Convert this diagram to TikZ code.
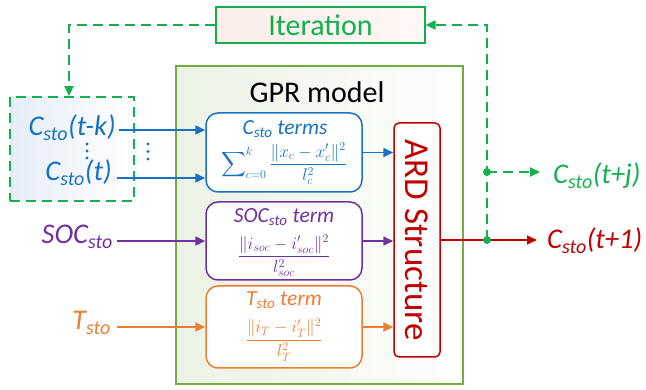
\documentclass[tikz,border=0pt]{standalone}
\usepackage{fontspec}
\setmainfont{Carlito}
\usepackage{amsmath}
\usetikzlibrary{arrows.meta,calc}
\definecolor{cblue}{HTML}{1872C4}
\definecolor{cpurple}{HTML}{7030A0}
\definecolor{corange}{HTML}{ED7D31}
\definecolor{cred}{HTML}{C00000}
\definecolor{cgreen}{HTML}{12B04E}
\definecolor{gprline}{HTML}{70AD47}
\definecolor{gprfill}{HTML}{EBF2E4}
\definecolor{iterfill}{HTML}{FCEDE8}
\definecolor{infill}{HTML}{E6EDF8}
\newcommand\stosub{\textsubscript{sto}}
\tikzset{
  lbl/.style={font=\fontsize{28.5}{32}\selectfont\itshape, inner sep=0pt},
  ttl/.style={font=\fontsize{21.5}{24}\selectfont\itshape, inner sep=0pt},
  frm/.style={font=\fontsize{18.5}{21}\selectfont, inner sep=0pt},
  termbox/.style={draw, line width=1.5pt, rounded corners=12pt, fill=white, minimum width=156pt},
  arr/.style={-{Triangle[length=10pt,width=9pt]}, line width=1.6pt},
  gdash/.style={draw=cgreen, line width=1.8pt, dash pattern=on 10pt off 6pt},
  gdot/.style={circle, fill=cgreen, inner sep=0pt, minimum size=8pt},
  vdot/.style={circle, inner sep=0pt, minimum size=3.2pt, fill=cblue}
}
\begin{document}
\begin{tikzpicture}[x=1pt,y=-1pt]
\useasboundingbox (0,0) rectangle (646,390);
% main boxes
\node[draw=gprline, line width=1.2pt, left color=gprfill, right color=white!96!gprfill, minimum width=287pt, minimum height=318pt, inner sep=0pt] (gpr) at (319.5,225) {};
\node[font=\fontsize{30}{34}\selectfont, inner sep=0pt] (gprt) at (317,92) {GPR model};
\node[draw=cgreen, line width=1.2pt, left color=iterfill, right color=white!60!iterfill, minimum width=209pt, minimum height=36pt, inner sep=0pt, text=cgreen, font=\fontsize{30}{34}\selectfont] (iter) at (320.5,25) {Iteration};
\node[gdash, left color=infill, right color=white, minimum width=124pt, minimum height=104pt, inner sep=0pt] (inbox) at (72,149) {};
% term boxes
\node[termbox, draw=cblue, minimum height=79pt] (cbox) at (284,152.5) {};
\node[termbox, draw=cpurple, minimum height=78pt] (sbox) at (284,241) {};
\node[termbox, draw=corange, minimum height=82pt] (tbox) at (284,327) {};
\node[ttl, text=cblue] (ctitle) at (285,129) {C\stosub{} terms};
\node[frm, text=cblue] (cform) at (284,164) {$\displaystyle\sum\nolimits_{c=0}^{k}\frac{\|x_c-x'_c\|^2}{l_c^2}$};
\node[ttl, text=cpurple] (stitle) at (284,217) {SOC\stosub{} term};
\node[frm, text=cpurple] (sform) at (284,256) {$\dfrac{\|i_{soc}-i'_{soc}\|^2}{l_{soc}^2}$};
\node[ttl, text=corange] (ttitle) at (284,300) {T\stosub{} term};
\node[frm, text=corange] (tform) at (284,340) {$\dfrac{\|i_T-i'_T\|^2}{l_T^2}$};
% ARD
\node[draw=cred, line width=1.5pt, rounded corners=5pt, fill=white, minimum width=46pt, minimum height=234pt, inner sep=0pt] (ard) at (417,240) {};
\node[rotate=-90, text=cred, font=\fontsize{35}{38}\selectfont, inner sep=0pt] (ardt) at (417,240) {ARD Structure};
% input labels
\node[lbl, text=cblue, anchor=base east] (ctk) at (116,136) {C\stosub(t-k)};
\node[lbl, text=cblue, anchor=base east] (ct) at (112,181) {C\stosub(t)};
\node[lbl, text=cpurple, anchor=base east] (soc) at (113,244) {SOC\stosub};
\node[lbl, text=corange, anchor=base east] (tin) at (111,330) {T\stosub};
% vertical dots
\node[vdot] (a1) at (87,144) {};
\node[vdot] (a2) at (87,151) {};
\node[vdot] (a3) at (87,158) {};
\node[vdot] (b1) at (148,144) {};
\node[vdot] (b2) at (148,151.5) {};
\node[vdot] (b3) at (148,159) {};
% output labels
\node[lbl, text=cgreen, anchor=base west] (ctj) at (553,184) {C\stosub(t+j)};
\node[lbl, text=cred, anchor=base west] (ct1) at (547,249) {C\stosub(t+1)};
% coordinates
\coordinate (j1) at (487,240);
\coordinate (j2) at (487,172);
\coordinate (j3) at (487,25);
\coordinate (ya) at (0,130);
\coordinate (yb) at (0,178);
\coordinate (yc) at (0,241);
\coordinate (yd) at (0,327);
% input arrows
\draw[arr, cblue] (ya -| ctk.east) ++(3,0) -- (ya -| cbox.west);
\draw[arr, cblue] (yb -| ctk.east) ++(1,0) -- (yb -| cbox.west);
\draw[arr, cpurple] (yc -| ctk.east) ++(1,0) -- (yc -| sbox.west);
\draw[arr, corange] (yd -| ctk.east) ++(1,0) -- (yd -| tbox.west);
% term to ARD
\draw[arr, cblue] (cbox.east) -- (cbox.east -| ard.west);
\draw[arr, cpurple] (sbox.east) -- (sbox.east -| ard.west);
\draw[arr, corange] (tbox.east) -- (tbox.east -| ard.west);
% iteration loop
\draw[gdash, -{Triangle[length=10pt,width=9pt]}] (j1) -- (j3) -- (iter.east);
\draw[gdash, -{Triangle[length=10pt,width=9pt]}] (iter.west) -| ($(inbox.north)+(-3,0)$);
\draw[gdash, -{Triangle[length=10pt,width=9pt]}, shorten >=13pt] (j2) -- (j2 -| ctj.west);
% output
\draw[arr, cred, line width=1.4pt, shorten >=10pt] (ard.east) -- (ard.east -| ct1.west);
\node[gdot] (d1) at (j1) {};
\node[gdot] (d2) at (j2) {};
\end{tikzpicture}
\end{document}
